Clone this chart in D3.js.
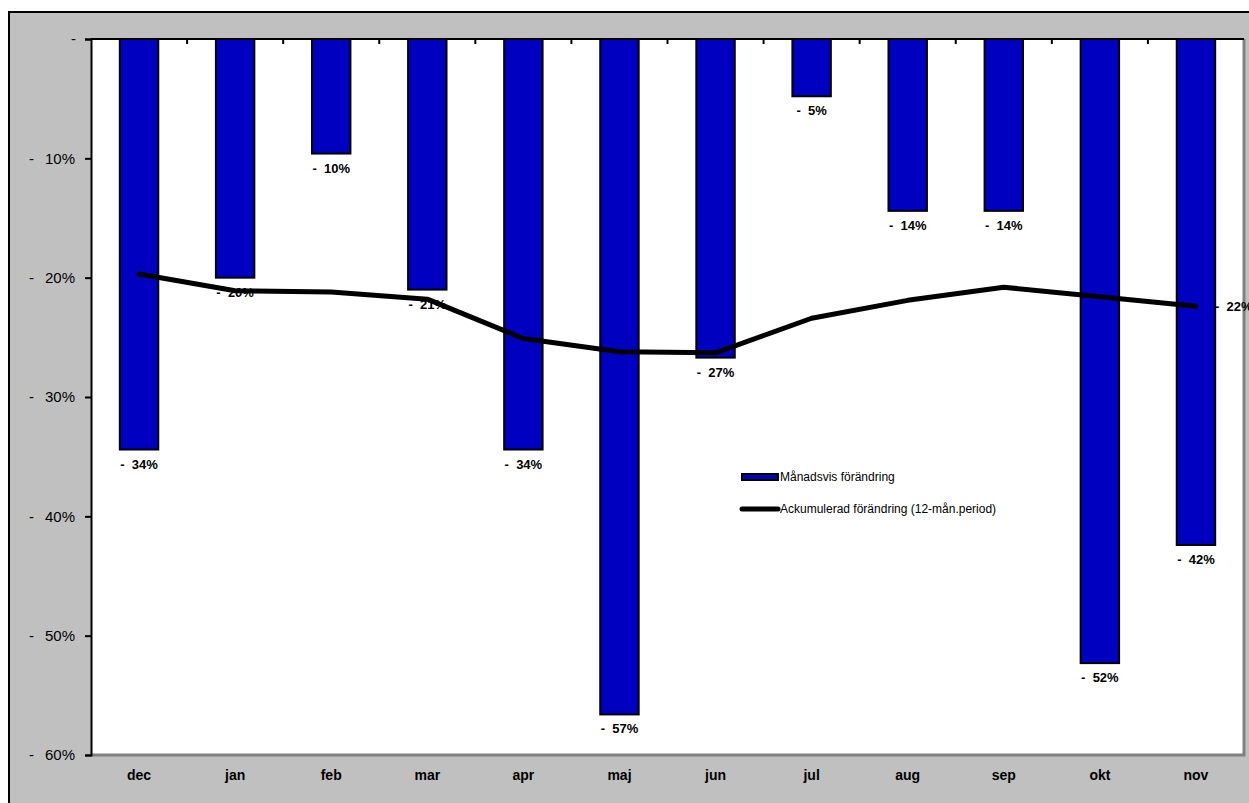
<!DOCTYPE html>
<html lang="sv">
<head>
    <meta charset="UTF-8">
    <title>Förändring</title>
    <style>
        body { margin: 0; background: #fff; }
        svg { display: block; font-family: "Liberation Sans", Arial, sans-serif; }
    </style>
</head>
<body>
    <div id="chart"></div>
    <script src="https://d3js.org/d3.v7.min.js"></script>
    <script>
        const months = ['dec', 'jan', 'feb', 'mar', 'apr', 'maj', 'jun', 'jul', 'aug', 'sep', 'okt', 'nov']
        const monthly = [-34.4, -20.0, -9.6, -21.0, -34.4, -56.6, -26.7, -4.8, -14.4, -14.4, -52.3, -42.4]
        const accumulated = [-19.7, -21.1, -21.2, -21.8, -25.1, -26.2, -26.3, -23.4, -21.9, -20.8, -21.6, -22.4]
        const yTicks = [0, -10, -20, -30, -40, -50, -60]
        const legendLabels = ['Månadsvis förändring', 'Ackumulerad förändring (12-mån.period)']

        const width = 1249
        const height = 803
        const plot = { left: 91, top: 39, right: 1244, bottom: 755 }

        const svg = d3.select('#chart').append('svg')
            .attr('width', width)
            .attr('height', height)

        // chart area
        svg.append('rect')
            .attr('x', 9).attr('y', 12)
            .attr('width', 1260).attr('height', 820)
            .attr('fill', '#c0c0c0')
            .attr('stroke', '#000')
            .attr('stroke-width', 2)

        // plot area
        svg.append('rect')
            .attr('x', plot.left).attr('y', plot.top)
            .attr('width', plot.right - plot.left)
            .attr('height', plot.bottom - plot.top)
            .attr('fill', '#fff')
        svg.append('path')
            .attr('d', `M${plot.left},${plot.bottom}H${plot.right}V${plot.top}`)
            .attr('fill', 'none')
            .attr('stroke', '#808080')
            .attr('stroke-width', 3)

        const x = d3.scaleBand()
            .domain(months)
            .range([plot.left, plot.right])
        const y = d3.scaleLinear()
            .domain([-60, 0])
            .range([plot.bottom, plot.top])

        const fmt = v => v === 0 ? '-' : '-  ' + Math.round(Math.abs(v)) + '%'

        // y axis
        const yAxis = d3.axisLeft(y)
            .tickValues(yTicks)
            .tickSize(6)
            .tickFormat(d => d === 0 ? '-' : Math.abs(d) + '%')
        const gy = svg.append('g')
            .attr('transform', `translate(${plot.left},0)`)
            .call(yAxis)
        gy.select('.domain').attr('stroke', '#000').attr('stroke-width', 2)
        gy.selectAll('.tick line').attr('stroke', '#000').attr('stroke-width', 2)
        gy.selectAll('.tick text')
            .attr('font-size', 15)
            .attr('fill', '#000')
            .attr('x', d => d === 0 ? -15 : -16)
            .attr('font-family', '"Liberation Sans", Arial, sans-serif')
        // accounting-style minus sign at the left of each label
        gy.selectAll('.tick')
            .filter(d => d !== 0)
            .append('text')
            .attr('x', -62)
            .attr('dy', '0.32em')
            .attr('font-size', 15)
            .attr('fill', '#000')
            .attr('text-anchor', 'start')
            .text('-')

        // category labels
        svg.append('g').selectAll('text')
            .data(months)
            .join('text')
            .attr('x', d => x(d) + x.bandwidth() / 2)
            .attr('y', 780)
            .attr('text-anchor', 'middle')
            .attr('font-size', 14)
            .attr('font-weight', 'bold')
            .text(d => d)

        // bars
        const barW = x.bandwidth() * 0.4
        svg.append('g').selectAll('rect')
            .data(monthly)
            .join('rect')
            .attr('x', (d, i) => x(months[i]) + (x.bandwidth() - barW) / 2)
            .attr('y', y(0))
            .attr('width', barW)
            .attr('height', d => y(d) - y(0))
            .attr('fill', '#0000c0')
            .attr('stroke', '#000')
            .attr('stroke-width', 2)

        // bar labels
        svg.append('g').selectAll('text')
            .data(monthly)
            .join('text')
            .attr('x', (d, i) => x(months[i]) + x.bandwidth() / 2)
            .attr('y', d => y(d) + 19)
            .attr('text-anchor', 'middle')
            .attr('font-size', 13)
            .attr('font-weight', 'bold')
            .style('white-space', 'pre')
            .text(d => fmt(d))

        // category axis at zero (top)
        svg.append('line')
            .attr('x1', plot.left).attr('x2', plot.right)
            .attr('y1', y(0)).attr('y2', y(0))
            .attr('stroke', '#000')
            .attr('stroke-width', 2)
        svg.append('g').selectAll('line')
            .data(months.slice(1))
            .join('line')
            .attr('x1', d => x(d)).attr('x2', d => x(d))
            .attr('y1', y(0)).attr('y2', y(0) + 5)
            .attr('stroke', '#000')
            .attr('stroke-width', 2)

        // accumulated line
        const line = d3.line()
            .x((d, i) => x(months[i]) + x.bandwidth() / 2)
            .y(d => y(d))
        svg.append('path')
            .datum(accumulated)
            .attr('d', line)
            .attr('fill', 'none')
            .attr('stroke', '#000')
            .attr('stroke-width', 5)
            .attr('stroke-linejoin', 'round')
            .attr('stroke-linecap', 'round')

        const last = accumulated.length - 1
        svg.append('text')
            .attr('x', x(months[last]) + x.bandwidth() / 2 + 19)
            .attr('y', y(accumulated[last]) + 5)
            .attr('font-size', 13)
            .attr('font-weight', 'bold')
            .style('white-space', 'pre')
            .text(fmt(accumulated[last]))

        // legend
        const legend = svg.append('g').attr('transform', 'translate(742,477)')
        legend.append('rect')
            .attr('x', 0).attr('y', -3)
            .attr('width', 36).attr('height', 6)
            .attr('fill', '#0000c0')
            .attr('stroke', '#000')
            .attr('stroke-width', 2)
        legend.append('line')
            .attr('x1', 0).attr('x2', 36)
            .attr('y1', 32).attr('y2', 32)
            .attr('stroke', '#000')
            .attr('stroke-width', 5)
            .attr('stroke-linecap', 'round')
        legend.selectAll('text')
            .data(legendLabels)
            .join('text')
            .attr('x', 38)
            .attr('y', (d, i) => i * 32 + 4)
            .attr('font-size', 12)
            .text(d => d)
    </script>
</body>
</html>
